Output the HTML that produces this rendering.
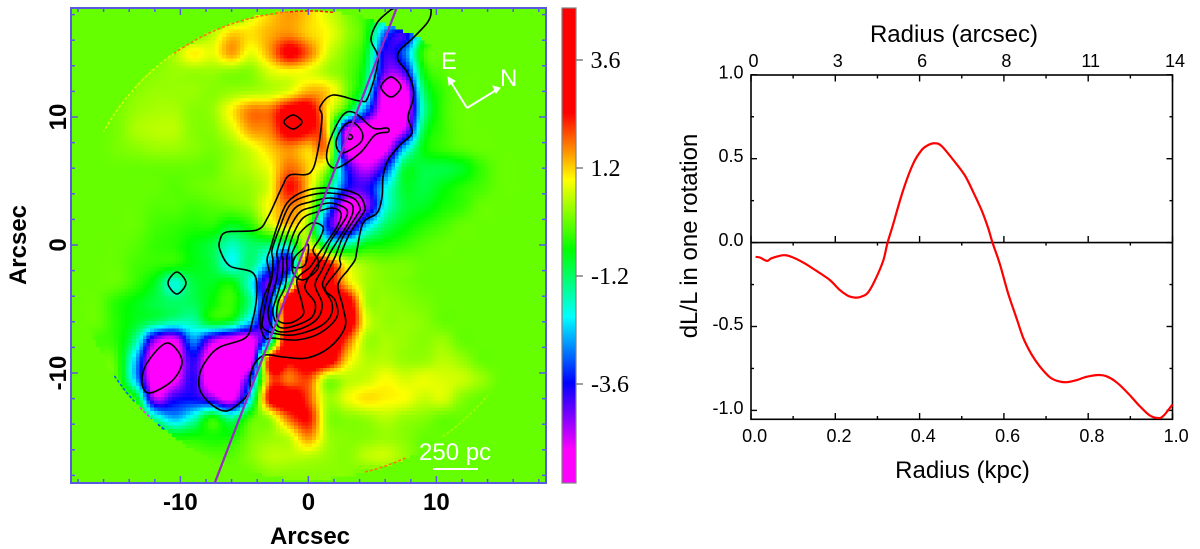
<!DOCTYPE html>
<html lang="en">
<head>
<meta charset="utf-8">
<title>Residual map and dL/L profile</title>
<style>
html,body{margin:0;padding:0;background:#fff;}
svg{display:block;}
text{font-family:"Liberation Sans",sans-serif;}
.bold{font-weight:bold;font-size:24px;fill:#000;}
.reg{font-size:24px;fill:#000;}
.tick{font-size:18px;fill:#000;}
.cb{font-family:"Liberation Serif",serif;font-size:24px;fill:#000;}
.wh{font-size:24px;fill:#fff;}
</style>
</head>
<body>
<svg id="figure" xmlns="http://www.w3.org/2000/svg" width="1200" height="549" viewBox="0 0 1200 549">
<defs>
<clipPath id="mapClip"><rect x="71" y="8" width="475" height="475"/></clipPath>
<linearGradient id="cbGrad" x1="0" y1="0" x2="0" y2="1">
<stop offset="0.221" stop-color="#ff0000"/>
<stop offset="0.362" stop-color="#ffff00"/>
<stop offset="0.509" stop-color="#00ff00"/>
<stop offset="0.650" stop-color="#00ffff"/>
<stop offset="0.789" stop-color="#0000ff"/>
<stop offset="0.930" stop-color="#ff00ff"/>
</linearGradient>
</defs>
<g id="map-panel">
<rect x="71" y="8" width="475" height="475" fill="#66ff00"/>
<g id="cells" clip-path="url(#mapClip)" shape-rendering="crispEdges"></g>
<g id="edges" clip-path="url(#mapClip)"></g>
<g id="contours" clip-path="url(#mapClip)" fill="none" stroke="#000" stroke-width="1.6"></g>
<line id="slit" stroke="#9a28c8" stroke-width="2.2"/>
<rect x="71" y="8" width="475" height="475" fill="none" stroke="#5a5ae0" stroke-width="2"/>
<g id="mapTicks" stroke="#5a5ae0" stroke-width="1.5"></g>
<g id="mapLabels"></g>
<text class="bold" x="310" y="544" text-anchor="middle">Arcsec</text>
<text class="bold" transform="translate(26,245) rotate(-90)" text-anchor="middle">Arcsec</text>
<g>
<path d="M467 108L449 79M467 108L498 89" fill="none" stroke="#fff" stroke-width="2"/>
<path d="M448 77L455 81L449 85ZM500 88L493 86L496 93Z" fill="#fff" stroke="#fff"/>
<text class="wh" x="441" y="69">E</text>
<text class="wh" x="500" y="86">N</text>
</g>
<text class="wh" x="419" y="460">250 pc</text>
<line x1="433" y1="469" x2="478" y2="469" stroke="#fff" stroke-width="2"/>
</g>
<g id="colorbar">
<rect x="562" y="8" width="14" height="475" fill="url(#cbGrad)" stroke="#808080" stroke-width="1.2"/>
<g id="cbTicks"></g>
</g>
<g id="profile">
<rect x="751" y="75" width="421.5" height="344.3" fill="#fff" stroke="#000" stroke-width="1.6"/>
<g id="profTicks" stroke="#000" stroke-width="1.4"></g>
<line x1="751" x2="1172.5" y1="242.6" y2="242.6" stroke="#000" stroke-width="1.6"/>
<path id="curve" fill="none" stroke="#ff0000" stroke-width="2.2" stroke-linejoin="round"/>
<g id="profLabels"></g>
<text class="reg" x="954" y="42" text-anchor="middle">Radius (arcsec)</text>
<text class="reg" x="962.5" y="478" text-anchor="middle">Radius (kpc)</text>
<text class="reg" transform="translate(697,236) rotate(-90)" text-anchor="middle">dL/L in one rotation</text>
</g>
</svg>
<script>
/* ---------- heatmap values: rows top (+18") to bottom (-18"), columns -18" to +18" in 1.5" steps ---------- */
const heatValues = [
[0,0,0,0,0,0,0,0,0,.7,1.2,1.5,1.2,.7,.2,-.3,-1,0,0,0,0,0,0,0,0],
[0,0,0,0,0,0,0,.5,1.2,1.1,1.4,1.6,1.2,.9,.3,-.4,-3,-3.8,-1,0,0,0,0,0,0],
[0,0,0,0,0,.4,1,.8,1.5,.8,1.5,2.6,1.8,.7,.1,-.7,-3.8,-3,-.3,0,0,0,0,0,0],
[0,0,0,.1,.2,.3,.3,.3,.2,.2,.7,.9,.8,.4,0,-1,-4.2,-4,-.7,-.1,0,0,0,0,0],
[0,0,0,.2,.3,.3,.3,.2,.3,.4,.5,.8,1.4,1.2,.1,-1.5,-5.5,-5.5,-1.3,-.3,0,0,0,0,0],
[0,0,.1,.3,.4,.4,.2,.3,1,1.7,1.8,2.8,2.8,1,-.6,-3,-5.5,-5.5,-1.6,-.3,0,0,0,0,0],
[0,0,.1,.4,.5,.5,.2,.2,.7,1.5,1.7,2.8,2.5,1.1,-4.8,-5.6,-5.6,-4.8,-1.1,-.3,0,0,0,0,0],
[0,0,.1,.2,.3,.3,.2,.1,.3,.7,1.2,1.6,1.2,1.4,-5,-5.6,-5.2,-2.4,-.7,-.3,-.1,0,0,0,0],
[0,0,0,0,0,0,0,0,.3,.5,.9,1.8,1.2,.2,-3.5,-4.8,-3.5,-1,-1,-1,-.8,-.3,0,0,0],
[0,0,0,0,0,-.1,0,.1,.2,.3,.8,2.4,1.2,-1,-3.5,-3.9,-2.2,-.9,-1,-.7,-.4,-.2,0,0,0],
[0,0,0,0,-.1,-.1,-.2,-.1,0,.2,1,1.7,.8,-2.4,-5.4,-4.6,-2,-1,-.8,-.5,-.3,0,0,0,0],
[0,0,0,0,-.2,-.3,-.4,-.4,-.8,-.4,.6,1.2,.2,-3.5,-4.8,-2.5,-1.2,-.7,-.4,-.2,0,0,0,0,0],
[0,0,0,-.1,-.3,-.4,-.7,-1,-1.7,-1.2,-1.3,-1.6,.8,-1.4,-1.5,-.7,-.5,-.3,-.1,0,0,0,0,0,0],
[0,0,0,-.2,-.3,-.4,-.7,-1,-2,-1.3,-2.8,-4,3.4,2.5,.8,.3,.1,.1,0,0,0,0,0,0,0],
[0,0,0,-.3,-.8,-1.9,-1,-.8,-.6,-2,-4.3,-1,4.5,3,1.3,.4,.2,.1,0,0,0,0,0,0,0],
[0,0,-.4,-.7,-1,-1.2,-1.1,-.6,-.3,-1.5,-3.5,4.5,3.5,3.5,3,.5,.3,.2,.1,0,0,0,0,0,0],
[0,0,-.4,-.8,-1.2,-1.6,-1.6,-.7,-1,-2.5,-3.8,4.5,3.5,3.5,3.2,.8,.3,.3,.2,0,0,0,0,0,0],
[0,-.2,-.4,-1.5,-4.5,-5.2,-2.8,-4.6,-5.4,-5.4,-2,4,3.5,3.5,2,.4,.4,.3,.2,.3,0,0,0,0,0],
[0,0,-.2,-2.5,-5.6,-5.6,-3.8,-5.8,-5.8,-5.4,2.6,2.6,3.2,3,1.2,.5,.5,.3,.3,.5,.3,0,0,0,0],
[0,0,-.1,-2.5,-5.6,-5.2,-3.8,-5.8,-5.8,-3.4,1.8,1.7,2,.3,.5,.6,.9,.7,.8,.7,.6,.3,0,0,0],
[0,0,0,-.5,-4.6,-3.8,-3.6,-4.3,-5.2,-2,2.6,3,2,.4,.8,1.1,1,.9,.6,.7,.2,0,0,0,0],
[0,0,0,0,-1.6,-2.6,-1.8,-.5,-1.5,-.2,.4,1.9,2.4,.3,.2,.3,.5,.3,.2,0,0,0,0,0,0],
[0,0,0,0,0,-.5,-.5,-.5,-.5,.1,.3,.6,1.6,.4,.2,.2,.3,.2,0,0,0,0,0,0,0],
[0,0,0,0,0,0,0,-.1,-.1,.2,.5,.5,.5,.3,.2,.5,.6,.3,0,0,0,0,0,0,0],
[0,0,0,0,0,0,0,0,0,0,.2,.2,.2,.2,.2,0,0,0,0,0,0,0,0,0,0]
];
const colorStops = [2.42,.93,-.62,-2.11,-3.58,-5.07];
const colorNames = [[255,0,0],[255,255,0],[0,255,0],[0,255,255],[0,0,255],[255,0,255]];
const colorbarTicks = [3.6,1.2,-1.2,-3.6];
const mapTickValues = [-18,-16,-14,-12,-10,-8,-6,-4,-2,0,2,4,6,8,10,12,14,16,18];
const mapLabelValues = [-10,0,10];

/* ---------- contour levels, arcsec coordinates ---------- */
const contourOuter = [[6.92,18.52],[9.27,18.52],[9.58,18.13],[9.27,17.34],[8.17,16.17],[7.16,15.23],[7,14.45],[7.7,13.52],[8.17,12.34],[8.17,11.33],[7.78,10],[8.09,8.75],[7.16,7.81],[6.22,6.64],[5.83,5.31],[5.75,3.75],[5.36,2.5],[4.27,1.72],[3.8,-.39],[3.64,-1.17],[3.09,-1.95],[2.31,-3.13],[2.7,-4.84],[2.86,-6.41],[1.69,-7.97],[-.11,-8.83],[-1.98,-8.75],[-3.39,-8.59],[-4.17,-9.22],[-4.56,-10.31],[-4.56,-11.33],[-5.11,-12.11],[-6.36,-12.97],[-7.53,-12.5],[-8.47,-11.33],[-8.47,-10],[-7.84,-8.83],[-6.91,-7.97],[-4.95,-7.27],[-4.41,-6.09],[-4.02,-3.75],[-4.33,-2.19],[-6.13,-1.64],[-6.91,-.39],[-6.91,.39],[-6.36,1.02],[-4.02,1.17],[-3.16,2.19],[-2.06,4.53],[-1.44,5.47],[.13,5.63],[.75,7.42],[1.06,10],[.91,10.78],[1.92,11.72],[4.03,11.25],[4.66,11.56],[5.44,14.45],[4.89,16.02],[5.36,17.34],[6.14,18.13]];
const contourIslandA = [[-10.97,-2.97],[-10.27,-2.11],[-9.56,-2.97],[-10.27,-3.83]];
const contourIslandB = [[-11.05,-7.66],[-9.88,-8.98],[-10.58,-10.55],[-12.38,-11.56],[-13,-10.78],[-12.61,-9.22]];
const contourIslandC = [[-1.91,9.61],[-1.2,10.16],[-.5,9.61],[-1.2,9.06]];
const contourIslandD = [[5.67,12.34],[6.45,13.13],[7.23,12.34],[6.45,11.56]];
const contourHotA = [[1.45,6.64],[1.69,8.2],[2.7,10.16],[3.64,10.31],[5.05,9.14],[6.14,9.14],[6.22,8.83],[5.2,8.59],[4.03,7.19],[2.23,6.02]];
const contourHotB = [[2.16,7.97],[2.63,9.14],[3.41,9.61],[4.19,8.83],[4.03,7.97],[2.63,7.19]];
const contourHotC = [[3.05,8.44],[3.25,8.63],[3.45,8.44],[3.25,8.24]];
const contourCoreA = [[-.27,4.22],[1.69,4.45],[3.8,3.98],[4.42,2.97],[4.19,2.34],[3.25,.94],[2.47,-.94],[2.47,-1.72],[1.3,-3.36],[2.08,-4.3],[2.23,-5.63],[.91,-6.88],[-.89,-7.42],[-2.77,-7.27],[-3.39,-7.27],[-3.78,-6.09],[-3.55,-4.3],[-3,-2.73],[-3.23,-1.17],[-3,-.39],[-2.45,1.41],[-1.67,3.28]];
const contourCoreB = [[-.11,3.83],[1.69,4.06],[3.48,3.67],[4.03,2.89],[3.8,2.34],[2.7,.63],[2.08,-.94],[1.3,-2.5],[1.14,-3.28],[1.84,-4.53],[1.69,-5.63],[.67,-6.48],[-1.2,-7.03],[-2.77,-6.88],[-3.55,-6.48],[-3.55,-5.63],[-3.16,-3.75],[-2.84,-2.5],[-2.77,-1.17],[-2.84,-.39],[-2.22,1.41],[-1.44,3.13]];
const contourCoreC = [[.13,3.36],[1.69,3.67],[3.25,3.28],[3.48,2.58],[3.02,1.56],[2.31,.39],[1.69,-.63],[1.06,-1.95],[.52,-3.13],[1.06,-4.53],[.75,-5.7],[-.42,-6.48],[-1.98,-6.8],[-2.77,-6.48],[-3.16,-5.31],[-2.77,-3.75],[-2.45,-2.5],[-2.38,-1.17],[-2.45,-.55],[-1.83,1.41],[-1.05,2.89]];
const contourCoreD = [[.36,2.97],[1.69,3.28],[2.86,2.89],[3.02,2.34],[2.47,1.41],[1.69,.23],[1.14,-.94],[.52,-1.8],[-.27,-3.28],[.52,-4.53],[.28,-5.63],[-.89,-6.25],[-2.06,-6.48],[-2.53,-6.09],[-2.77,-5.08],[-2.38,-3.75],[-2.06,-2.5],[-1.98,-1.17],[-2.06,-.63],[-1.44,1.33],[-.66,2.58]];
const contourCoreE = [[.67,2.58],[1.84,2.89],[2.55,2.5],[2.31,1.56],[1.45,.23],[.75,-.78],[.13,-1.72],[-.89,-2.73],[-.5,-4.53],[-.42,-5.47],[-1.44,-6.09],[-2.38,-5.86],[-2.38,-4.53],[-1.83,-3.28],[-1.67,-1.95],[-1.67,-.94],[-1.2,.78],[-.42,2.11]];
const contourCoreF = [[.28,1.72],[1.14,1.41],[.91,.55],[.36,-.39],[.75,-1.17],[.67,-1.95],[-.42,-2.73],[-1.2,-2.19],[-1.27,-1.17],[-1.27,-.63],[-.89,.23],[-.66,.94]];
const contourCoreG = [[-.5,-.39],[0,0],[-.27,-1.56],[-1.2,-1.72],[-1.05,-.94]];
const contourLevels = [contourOuter,contourIslandA,contourIslandB,contourIslandC,contourIslandD,contourHotA,contourHotB,contourHotC,contourCoreA,contourCoreB,contourCoreC,contourCoreD,contourCoreE,contourCoreF,contourCoreG];
const slitEnds = [[-7.3,-18.55],[6.9,18.52]];
const edgeArcAngles = [[84,95,'#ff1000'],[95,125,'#ff7000'],[125,151,'#d8ff00'],[214,222,'#0060ff'],[224,228,'#ff20ff'],[230,232,'#0040ff'],[284,295,'#ff7000'],[305,320,'#a8ff00']];

/* ---------- dL/L profile ---------- */
const radiusKpc = [.011,.021,.038,.049,.077,.096,.124,.156,.187,.211,.231,.247,.262,.278,.298,.314,.324,.336,.361,.385,.405,.421,.436,.452,.48,.507,.527,.547,.563,.573,.59,.61,.63,.646,.666,.685,.709,.729,.749,.772,.796,.824,.843,.867,.895,.922,.946,.964,.978,1];
const dLoverL = [-.085,-.089,-.109,-.093,-.075,-.085,-.119,-.17,-.223,-.283,-.318,-.328,-.322,-.296,-.204,-.105,0,.098,.313,.472,.552,.582,.592,.576,.492,.402,.303,.193,.084,0,-.125,-.302,-.45,-.569,-.668,-.737,-.802,-.826,-.832,-.82,-.8,-.789,-.796,-.832,-.899,-.974,-1.03,-1.045,-1.034,-.964];
const xTickValues = [0,.2,.4,.6,.8,1];
const xMinorValues = [.1,.3,.5,.7,.9];
const xTickLabels = ['0.0','0.2','0.4','0.6','0.8','1.0'];
const topTickLabels = ['0','3','6','8','11','14'];
const yTickValues = [1,.5,0,-.5,-1];
const yMinorValues = [.75,.25,-.25,-.75];
const yTickLabels = ['1.0','0.5','0.0','-0.5','-1.0'];

/* ---------- scales ---------- */
const SVGNS = 'http://www.w3.org/2000/svg';
function mapX(a){return 308.4+12.8*a;}
function mapY(a){return 245-12.8*a;}
function cbY(v){return 222-45*v;}
function profX(k){return 751+421.5*k;}
function profY(v){return 242.6-167.8*v;}
function mk(tag,parent,attrs){
  const e=document.createElementNS(SVGNS,tag);
  for(const k in attrs)e.setAttribute(k,attrs[k]);
  parent.appendChild(e);
  return e;
}
function colorFor(v){
  if(v>=colorStops[0])return colorNames[0];
  const last=colorStops.length-1;
  if(v<=colorStops[last])return colorNames[last];
  for(let i=0;i<last;i++){
    if(v<=colorStops[i]&&v>=colorStops[i+1]){
      const t=(colorStops[i]-v)/(colorStops[i]-colorStops[i+1]);
      const a=colorNames[i],b=colorNames[i+1];
      return [a[0]+(b[0]-a[0])*t,a[1]+(b[1]-a[1])*t,a[2]+(b[2]-a[2])*t];
    }
  }
  return colorNames[0];
}
function cubic(p0,p1,p2,p3,t){
  return p1+.5*t*(p2-p0+t*(2*p0-5*p1+4*p2-p3+t*(3*(p1-p2)+p3-p0)));
}
function sample(ax,ay){
  const rows=heatValues.length,cols=heatValues[0].length;
  const fx=(ax+18)/1.5,fy=(18-ay)/1.5;
  const ix=Math.floor(fx),iy=Math.floor(fy);
  const tx=fx-ix,ty=fy-iy;
  const col=[];
  for(let j=-1;j<=2;j++){
    const r=heatValues[Math.max(0,Math.min(rows-1,iy+j))];
    col.push(cubic(r[Math.max(0,Math.min(cols-1,ix-1))],r[Math.max(0,Math.min(cols-1,ix))],r[Math.max(0,Math.min(cols-1,ix+1))],r[Math.max(0,Math.min(cols-1,ix+2))],tx));
  }
  return cubic(col[0],col[1],col[2],col[3],ty);
}
function smooth(pts,closed){
  const n=pts.length;
  let d='M'+pts[0][0].toFixed(1)+' '+pts[0][1].toFixed(1);
  const seg=closed?n:n-1;
  for(let i=0;i<seg;i++){
    const p0=closed?pts[(i-1+n)%n]:pts[Math.max(0,i-1)];
    const p1=pts[i];
    const p2=pts[(i+1)%n];
    const p3=closed?pts[(i+2)%n]:pts[Math.min(n-1,i+2)];
    const c1=[p1[0]+(p2[0]-p0[0])/6,p1[1]+(p2[1]-p0[1])/6];
    const c2=[p2[0]-(p3[0]-p1[0])/6,p2[1]-(p3[1]-p1[1])/6];
    d+='C'+c1[0].toFixed(1)+' '+c1[1].toFixed(1)+' '+c2[0].toFixed(1)+' '+c2[1].toFixed(1)+' '+p2[0].toFixed(1)+' '+p2[1].toFixed(1);
  }
  return d+(closed?'Z':'');
}

/* ---------- heatmap cells ---------- */
const cellGroup=document.getElementById('cells');
const cellSize=3.6;
const fieldRadius=18.28;
for(let py=8;py<483;py+=cellSize){
  for(let px=71;px<546;px+=cellSize){
    const ax=(px+cellSize/2-308.4)/12.8;
    const ay=(245-py-cellSize/2)/12.8;
    if(Math.hypot(ax,ay)>fieldRadius)continue;
    const c=colorFor(sample(ax,ay));
    const cell=mk('rect',cellGroup,{x:px.toFixed(1),y:py.toFixed(1),width:cellSize+.6,height:cellSize+.6,fill:'rgb('+Math.round(c[0])+','+Math.round(c[1])+','+Math.round(c[2])+')'});
    
    
  }
}

/* ---------- field edge ---------- */
const edgeGroup=document.getElementById('edges');
edgeArcAngles.forEach(function(a){
  const pts=[];
  for(let t=a[0];t<=a[1];t+=1){
    const r=t*Math.PI/180;
    pts.push((mapX(0)+234*Math.cos(r)).toFixed(1)+','+(mapY(0)-234*Math.sin(r)).toFixed(1));
  }
  const arc=mk('polyline',edgeGroup,{points:pts.join(' '),fill:'none',stroke:a[2],'stroke-width':1.5,'stroke-dasharray':'3 2'});
  
  
});

/* ---------- contours ---------- */
const contourGroup=document.getElementById('contours');
contourLevels.forEach(function(level){
  const pts=level.map(function(p){return [mapX(p[0]),mapY(p[1])];});
  const path=mk('path',contourGroup,{d:smooth(pts,true)});
  
  
});
const slit=document.getElementById('slit');
slit.setAttribute('x1',mapX(slitEnds[0][0]));
slit.setAttribute('y1',mapY(slitEnds[0][1]));
slit.setAttribute('x2',mapX(slitEnds[1][0]));
slit.setAttribute('y2',mapY(slitEnds[1][1]));

/* ---------- map axes ---------- */
const mapTicks=document.getElementById('mapTicks');
mapTickValues.forEach(function(v){
  const len=(v%10===0)?7:4;
  const x=mapX(v),y=mapY(v);
  [[x,483,x,483-len],[x,8,x,8+len],[71,y,71+len,y],[546,y,546-len,y]].forEach(function(s){
    const t=mk('line',mapTicks,{x1:s[0],y1:s[1],x2:s[2],y2:s[3]});
    
    
  });
});
const mapLabels=document.getElementById('mapLabels');
mapLabelValues.forEach(function(v){
  const xl=mk('text',mapLabels,{class:'bold',x:mapX(v),y:510,'text-anchor':'middle'});
  xl.textContent=String(v);
  
  
  const yl=mk('text',mapLabels,{class:'bold','text-anchor':'middle',transform:'translate(66,'+mapY(v)+') rotate(-90)'});
  yl.textContent=String(v);
  
  
});

/* ---------- colorbar ---------- */
const cbTicks=document.getElementById('cbTicks');
colorbarTicks.forEach(function(v){
  const t=mk('line',cbTicks,{x1:576,x2:583,y1:cbY(v),y2:cbY(v),stroke:'#808080','stroke-width':1.5});
  
  
  const l=mk('text',cbTicks,{class:'cb',x:v<0?591:590.5,y:cbY(v)+8});
  l.textContent=v.toFixed(1);
  
  
});

/* ---------- profile ---------- */
const profTicks=document.getElementById('profTicks');
function profTick(x1,y1,x2,y2){
  const t=mk('line',profTicks,{x1:x1,y1:y1,x2:x2,y2:y2});
  
  
}
xTickValues.forEach(function(v){
  const x=profX(v);
  profTick(x,419.3,x,413);
  profTick(x,75,x,81.5);
  profTick(x,242.6,x,236);
});
xMinorValues.forEach(function(v){
  const x=profX(v);
  profTick(x,419.3,x,416);
  profTick(x,75,x,78.5);
  profTick(x,242.6,x,245.6);
});
yTickValues.forEach(function(v){
  const y=profY(v);
  profTick(751,y,757,y);
  profTick(1172.5,y,1166.5,y);
});
yMinorValues.forEach(function(v){
  const y=profY(v);
  profTick(751,y,754,y);
  profTick(1172.5,y,1169.5,y);
});
const profLabels=document.getElementById('profLabels');
xTickValues.forEach(function(v,i){
  const b=mk('text',profLabels,{class:'tick',x:profX(v)+3.7,y:442,'text-anchor':'middle'});
  b.textContent=xTickLabels[i];
  
  
  const t=mk('text',profLabels,{class:'tick',x:profX(v)+2.5,y:67,'text-anchor':'middle'});
  t.textContent=topTickLabels[i];
  
  
});
yTickValues.forEach(function(v,i){
  const l=mk('text',profLabels,{class:'tick',x:743.5,y:profY(v)+3.5,'text-anchor':'end'});
  l.textContent=yTickLabels[i];
  
  
});
document.getElementById('curve').setAttribute('d',smooth(radiusKpc.map(function(k,i){return [profX(k),profY(dLoverL[i])];}),false));
</script>
</body>
</html>
